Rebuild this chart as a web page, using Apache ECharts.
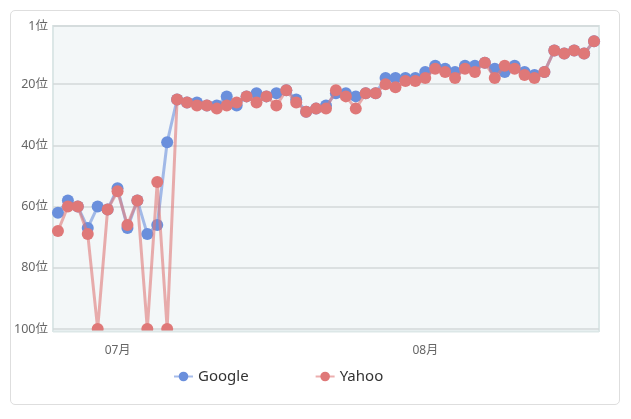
<!DOCTYPE html>
<html>
<head>
<meta charset="utf-8">
<script src="https://cdn.jsdelivr.net/npm/echarts@6/dist/echarts.min.js"></script>
<style>
html,body{margin:0;padding:0;background:#fff;}
#card{position:absolute;left:10px;top:10px;width:608px;height:393px;border:1px solid #dedede;border-radius:5px;background:#fff;}
#chart{position:absolute;left:0;top:0;width:631px;height:419px;}
</style>
</head>
<body>
<div id="card"></div>
<div id="chart"></div>
<script>
// dates 06-25 .. 08-18
const dates = [
 '06-25','06-26','06-27','06-28','06-29','06-30',
 '07-01','07-02','07-03','07-04','07-05','07-06','07-07','07-08','07-09','07-10',
 '07-11','07-12','07-13','07-14','07-15','07-16','07-17','07-18','07-19','07-20',
 '07-21','07-22','07-23','07-24','07-25','07-26','07-27','07-28','07-29','07-30','07-31',
 '08-01','08-02','08-03','08-04','08-05','08-06','08-07','08-08','08-09','08-10',
 '08-11','08-12','08-13','08-14','08-15','08-16','08-17','08-18'
];
const googleRank = [62,58,60,67,60,61,54,67,58,69,66,39,25,26,26,27,27,24,27,24,23,24,23,22,25,29,28,27,23,23,24,23,23,18,18,18,18,16,14,15,16,14,14,13,15,16,14,16,17,16,9,10,9,10,6];
const yahooRank  = [68,60,60,69,100,61,55,66,58,100,52,100,25,26,27,27,28,27,26,24,26,24,27,22,26,29,28,28,22,24,28,23,23,20,21,19,19,18,15,16,18,15,16,13,18,14,15,17,18,16,9,10,9,10,6];
const yTicks = [1,20,40,60,80,100];
const seriesNames = ['Google','Yahoo'];

const FONT = '"Noto Sans", "Noto Sans CJK JP", sans-serif';
const chart = echarts.init(document.getElementById('chart'), null, {renderer:'canvas'});
chart.setOption({
  backgroundColor: 'transparent',
  animation: false,
  textStyle: {fontFamily: FONT},
  grid: {left: 53, right: 32, top: 26, bottom: 87, show: true,
    backgroundColor: '#f3f7f8', borderColor: '#dce7e7', borderWidth: 2},
  legend: {
    data: seriesNames, left: 168, top: 364, itemGap: 66, itemWidth: 19, itemHeight: 12,
    textStyle: {fontSize: 15, color: '#333', fontFamily: FONT}
  },
  xAxis: {
    type: 'category', data: dates, boundaryGap: true,
    axisLine: {show: false}, axisTick: {show: false},
    axisLabel: {
      interval: (i, v) => v.endsWith('-01'),
      formatter: v => v.slice(0,2) + '月',
      color: '#666', fontSize: 12, margin: 13, fontFamily: FONT
    },
    splitLine: {show: false}
  },
  yAxis: {
    type: 'value', inverse: true, min: 1, max: 101,
    axisLine: {show: false},
    axisTick: {show: false, customValues: yTicks},
    axisLabel: {customValues: yTicks, formatter: v => v + '位', color: '#666', fontSize: 12.5, margin: 5, fontFamily: FONT},
    splitLine: {show: true, lineStyle: {color: '#d3d9da', width: 1.5}}
  },
  graphic: [
    {type: 'rect', z: 100, shape: {x: 52, y: 332, width: 550, height: 9}, style: {fill: '#fff'}},
    {type: 'line', z: 101, shape: {x1: 53, y1: 331.5, x2: 599, y2: 331.5}, style: {stroke: '#dce7e7', lineWidth: 2}}
  ],
  series: [
    {name: 'Google', type: 'line', data: googleRank, symbol: 'circle', symbolSize: 12, showSymbol: true, showAllSymbol: true,
     itemStyle: {color: '#6a8fdc'}, lineStyle: {width: 3, opacity: 0.6}, clip: true, z: 2},
    {name: 'Yahoo', type: 'line', data: yahooRank, symbol: 'circle', symbolSize: 12, showSymbol: true, showAllSymbol: true,
     itemStyle: {color: '#df7878'}, lineStyle: {width: 3, opacity: 0.6}, clip: true, z: 3}
  ]
});
</script>
</body>
</html>
